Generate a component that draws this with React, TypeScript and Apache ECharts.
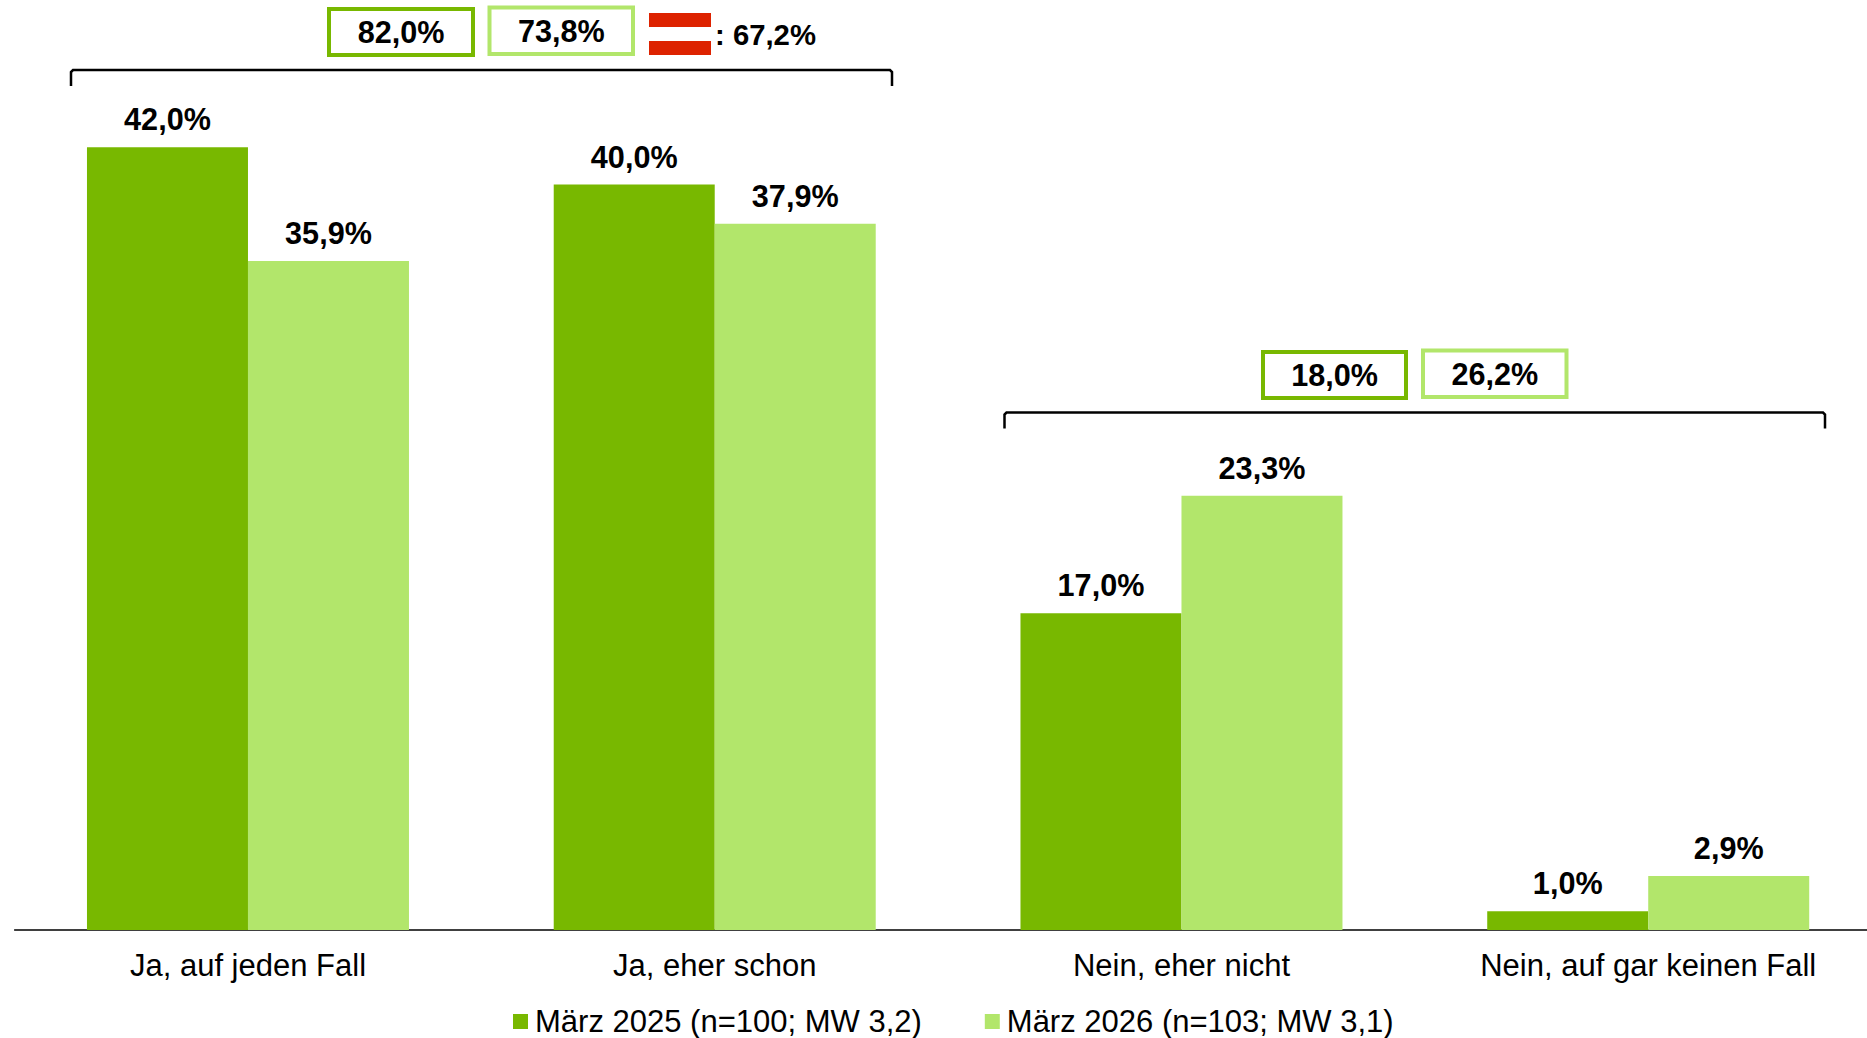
import React, { useEffect, useRef } from "react";
import * as echarts from "echarts";

const categories = ["Ja, auf jeden Fall", "Ja, eher schon", "Nein, eher nicht", "Nein, auf gar keinen Fall"];
const seriesNames = ["März 2025 (n=100; MW 3,2)", "März 2026 (n=103; MW 3,1)"];
const values2025 = [42.0, 40.0, 17.0, 1.0];
const values2026 = [35.9, 37.9, 23.3, 2.9];
const summaryTop = ["82,0%", "73,8%", ": 67,2%"];
const summaryBottom = ["18,0%", "26,2%"];

const DARK = "#78b800";
const LIGHT = "#b2e66b";
const FONT = "'Liberation Sans', Arial, sans-serif";

const fmt = (v: number) => v.toFixed(1).replace(".", ",") + "%";

function box(x: number, y: number, w: number, h: number, color: string, label: string) {
  return [
    { type: "rect", shape: { x: x + 2, y: y + 2, width: w - 4, height: h - 4 }, style: { fill: "#fff", stroke: color, lineWidth: 4 } },
    { type: "text", x: x + w / 2, y: y + h / 2, style: { text: label, fill: "#000", font: `bold 30.6px ${FONT}`, align: "center", verticalAlign: "middle" } },
  ];
}

function bracket(x1: number, x2: number, y: number, drop: number) {
  return {
    type: "polyline",
    shape: { points: [[x1, y + drop], [x1, y + 2], [x1 + 2, y], [x2 - 2, y], [x2, y + 2], [x2, y + drop]] },
    style: { fill: "none", stroke: "#000", lineWidth: 2.5 },
  };
}

export default function App() {
  const ref = useRef<HTMLDivElement>(null);
  useEffect(() => {
    document.body.style.margin = "0";
    document.body.style.overflow = "hidden";
    const chart = echarts.init(ref.current!, undefined, { renderer: "svg" });
    const label = {
      show: true,
      position: "top" as const,
      distance: 12.5,
      color: "#000",
      fontFamily: FONT,
      fontWeight: "bold" as const,
      fontSize: 30.6,
      formatter: (p: any) => fmt(p.value),
    };
    chart.setOption({
      animation: false,
      backgroundColor: "#fff",
      grid: { left: 14.6, top: 0, width: 1867, height: 930 },
      legend: {
        left: 508,
        top: 1001,
        itemWidth: 15,
        itemHeight: 15,
        itemGap: 63,
        icon: "rect",
        data: seriesNames,
        textStyle: { fontFamily: FONT, fontSize: 31, color: "#000", padding: [0, 0, 0, 2] },
      },
      xAxis: {
        type: "category",
        data: categories,
        axisTick: { show: false },
        axisLine: { lineStyle: { color: "#000", width: 1.5 } },
        axisLabel: { fontFamily: FONT, fontSize: 31, color: "#000", margin: 20 },
      },
      yAxis: { type: "value", min: 0, max: 49.9, show: false, splitLine: { show: false } },
      series: [
        { name: seriesNames[0], type: "bar", data: values2025, barWidth: 161, barGap: 0, itemStyle: { color: DARK }, label },
        { name: seriesNames[1], type: "bar", data: values2026, barWidth: 161, barGap: 0, itemStyle: { color: LIGHT }, label },
      ],
      graphic: {
        elements: [
          ...box(327, 7, 148, 50, DARK, summaryTop[0]),
          ...box(487.5, 5.5, 147.5, 50.5, LIGHT, summaryTop[1]),
          { type: "rect", shape: { x: 649, y: 13, width: 62, height: 14 }, style: { fill: "#dd2200" } },
          { type: "rect", shape: { x: 649, y: 41, width: 62, height: 14 }, style: { fill: "#dd2200" } },
          { type: "text", x: 715, y: 34.5, style: { text: summaryTop[2], fill: "#000", font: `bold 29.3px ${FONT}`, align: "left", verticalAlign: "middle" } },
          bracket(71, 892, 70, 16),
          ...box(1261, 350, 147, 50, DARK, summaryBottom[0]),
          ...box(1421, 348.5, 147.5, 50.5, LIGHT, summaryBottom[1]),
          bracket(1004.5, 1825, 412.5, 16),
        ],
      },
    });
    return () => chart.dispose();
  }, []);
  return (
    <div style={{ width: 1867, height: 1038, overflow: "hidden" }}>
      <div ref={ref} style={{ width: 1882, height: 1038 }} />
    </div>
  );
}
